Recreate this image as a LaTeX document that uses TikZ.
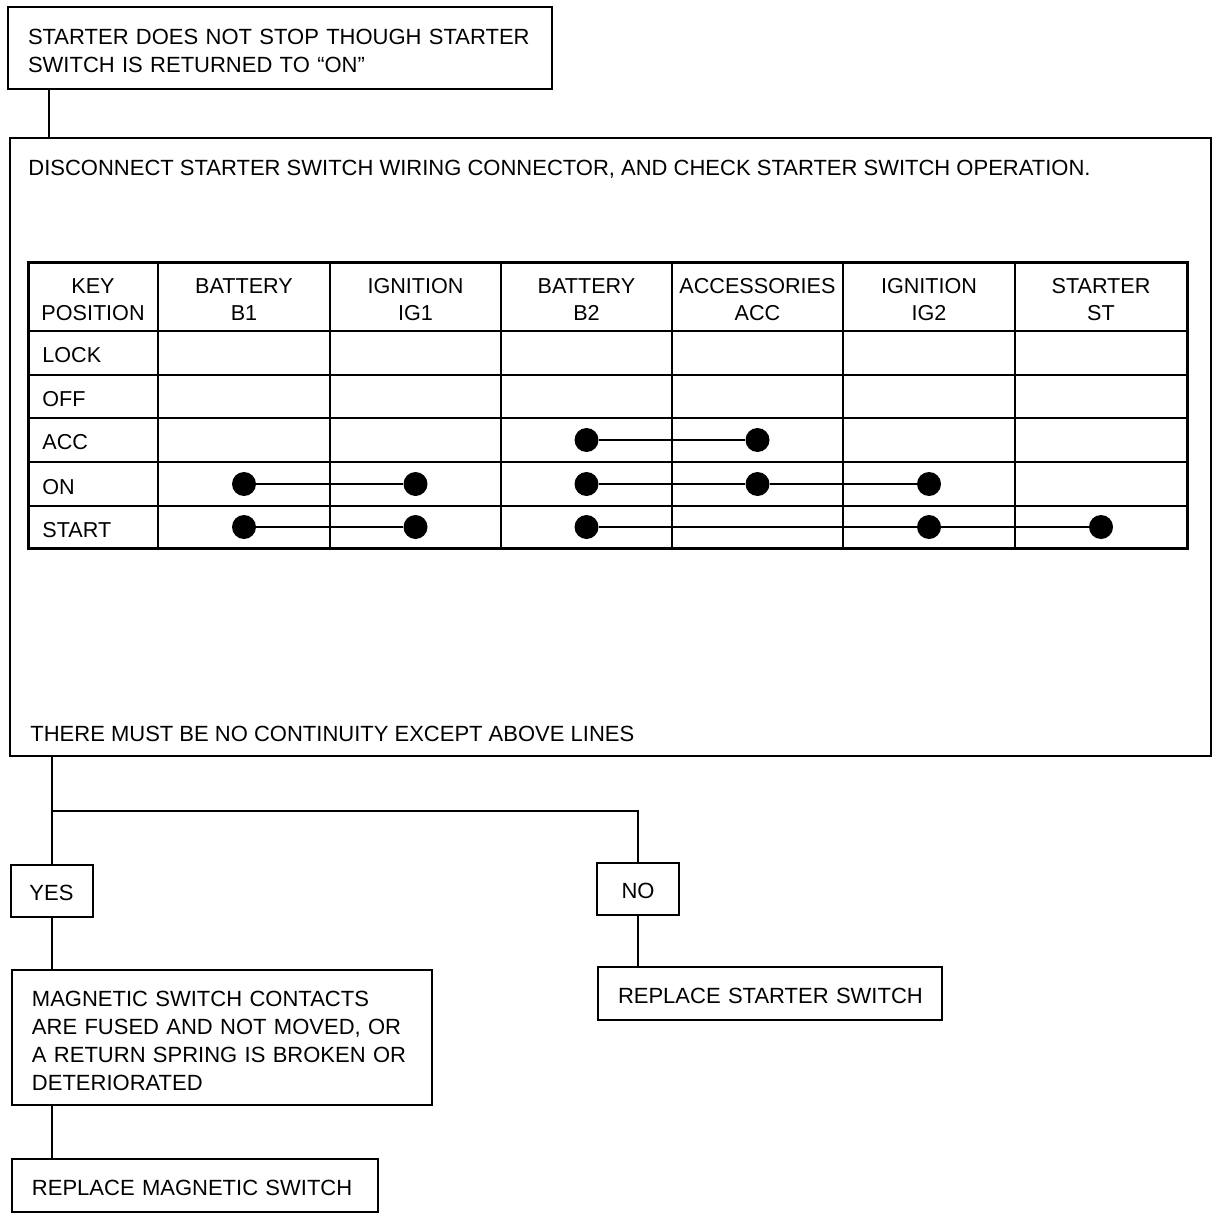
\documentclass[tikz,border=0pt]{standalone}
\usepackage{fontspec}
\setmainfont{Liberation Sans}
\usetikzlibrary{calc}

\begin{document}
\begin{tikzpicture}[x=0.5pt,y=-0.5pt,
      font=\fontsize{11}{14}\selectfont,
      box/.style={draw,line width=1pt,inner xsep=10pt,inner ysep=0pt,
                  align=left,anchor=west},
      tag/.style={draw,line width=1pt,minimum width=41pt,minimum height=26pt,
                  inner sep=0pt},
      txt/.style={anchor=west,inner sep=0pt},
      dot/.style={circle,fill,inner sep=0pt,minimum size=12pt},
      link/.style={line width=1pt},
      grid/.style={line width=0.9pt}]
    \useasboundingbox (0,0) rectangle (1232,1220);
    \node[box,text width=252pt,minimum height=41pt] (top) at (7,48)
      {\rule{0pt}{11pt}\mbox{STARTER DOES NOT STOP THOUGH STARTER}\\SWITCH IS RETURNED TO “ON”};
    \node[draw,line width=1pt,inner sep=0pt,minimum width=600.5pt,
      minimum height=309pt,anchor=north west] (chk) at (9,137) {};
    \node[txt] (chktxt) at (28,169)
      {DISCONNECT STARTER SWITCH WIRING CONNECTOR, AND CHECK STARTER SWITCH OPERATION.};
    \node[txt] (rule) at (30,734) {THERE MUST BE NO CONTINUITY EXCEPT ABOVE LINES};
    \foreach \x in {158,330,501,672,843,1015}
      \draw[grid] (\x,262) -- (\x,548);
    \foreach \y in {331,375,418,462,506}
      \draw[grid] (28,\y) -- (1187,\y);
    \draw[line width=1.5pt] (28,262) rectangle (1187,548);
    \foreach \x/\t [count=\i] in {93/{KEY\\POSITION},244/{BATTERY\\B1},
        415.5/{IGNITION\\IG1},586.5/{BATTERY\\B2},757.5/{ACCESSORIES\\ACC},
        929/{IGNITION\\IG2},1101/{STARTER\\ST}}
      \node[align=center,inner sep=0pt,font=\fontsize{10.8}{13.5}\selectfont] (h\i) at (\x,300) {\t};
    \foreach \y/\t in {355/LOCK,399/OFF,442/ACC,487/ON,530/START}
      \node[txt,font=\fontsize{10.8}{13.5}\selectfont] (r\t) at (42,\y) {\t};
    \node[dot] (a3) at (586.5,440) {};
    \node[dot] (a4) at (757.5,440) {};
    \foreach \x/\n in {244/1,415.5/2,586.5/3,757.5/4,929/5}
      \node[dot] (o\n) at (\x,484) {};
    \foreach \x/\n in {244/1,415.5/2,586.5/3,929/5,1101/6}
      \node[dot] (s\n) at (\x,527) {};
    \draw[link] (a3) -- (a4);
    \draw[link] (o1) -- (o2);
    \draw[link] (o3) -- (o4) -- (o5);
    \draw[link] (s1) -- (s2);
    \draw[link] (s3) -- (s5) -- (s6);
    \node[tag] (yes) at (51.5,891) {\rule{0pt}{10pt}YES};
    \node[tag] (no) at (638,889) {\rule{0pt}{10pt}NO};
    \node[box,text width=190pt,minimum height=67.5pt] (mag) at (11,1037.5)
      {\rule{0pt}{11pt}MAGNETIC SWITCH CONTACTS\\ARE FUSED AND NOT MOVED, OR\\
       A RETURN SPRING IS BROKEN OR\\DETERIORATED};
    \node[box,text width=163pt,minimum height=26.5pt] (rms) at (11,1185.5)
      {\rule{0pt}{10pt}\mbox{REPLACE MAGNETIC SWITCH}};
    \node[box,text width=152pt,minimum height=26.5pt] (rss) at (597,993.5)
      {\rule{0pt}{10pt}\mbox{REPLACE STARTER SWITCH}};
    \coordinate (j1) at (49,0);
    \coordinate (br) at (51.5,811);
    \draw[link] (top.south -| j1) -- (chk.north -| j1);
    \draw[link] (chk.south -| yes) -- (yes.north);
    \draw[link] (br) -| (no.north);
    \draw[link] (yes.south) -- (mag.north -| yes);
    \draw[link] (mag.south -| yes) -- (rms.north -| yes);
    \draw[link] (no.south) -- (rss.north -| no);
\end{tikzpicture}
\end{document}
